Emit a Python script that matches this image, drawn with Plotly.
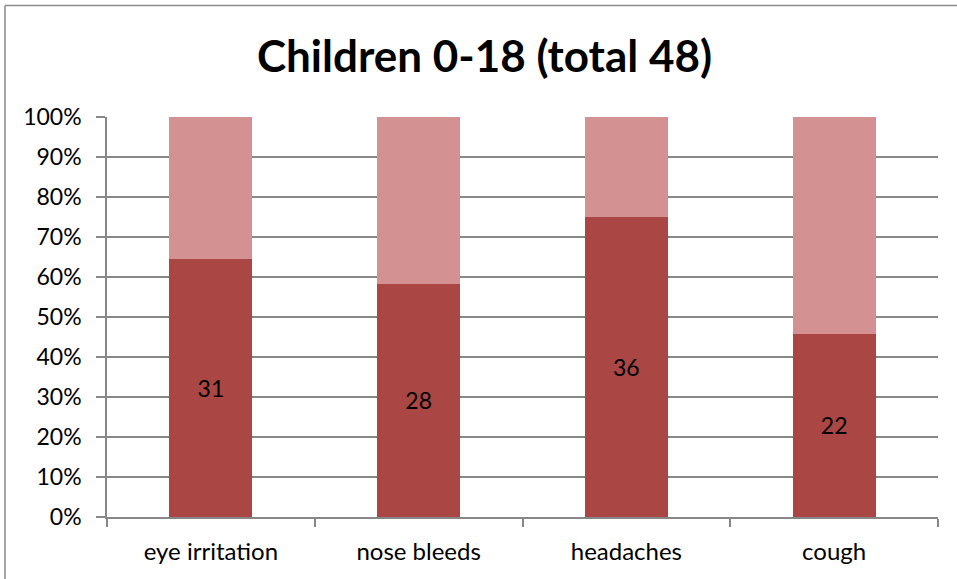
import plotly.graph_objects as go

categories = ["eye irritation", "nose bleeds", "headaches", "cough"]
yes_counts = [31, 28, 36, 22]
no_counts = [17, 20, 12, 26]
title_text = "Children 0-18 (total 48)"

W, H = 957, 579
ML, MR, MT, MB = 107, 19, 117, 62
PW, PH = W - ML - MR, H - MT - MB

fig = go.Figure()
fig.add_trace(go.Bar(
    x=categories, y=yes_counts, text=[str(v) for v in yes_counts],
    textposition="inside", insidetextanchor="middle",
    textfont=dict(color="black", size=23, family="Lato"),
    marker=dict(color="#AA4644", line=dict(width=0)),
    hoverinfo="skip",
))
fig.add_trace(go.Bar(
    x=categories, y=no_counts, textposition="none",
    marker=dict(color="#D39291", line=dict(width=0)),
    hoverinfo="skip",
))

def px2x(p):
    return (p - ML) / PW

def px2y(p):
    return (H - MB - p) / PH

fig.update_layout(
    width=W, height=H,
    margin=dict(l=ML, r=MR, t=MT, b=MB, autoexpand=False),
    barmode="stack", barnorm="percent", bargap=0.6,
    showlegend=False,
    plot_bgcolor="white", paper_bgcolor="white",
    font=dict(family="Lato", size=23, color="black"),
    title=dict(text="<b>" + title_text + "</b>", x=(484.5 - ML) / PW, xref="paper", xanchor="center",
               y=1 - 57 / H, yanchor="middle",
               font=dict(family="Lato", size=44, color="black")),
    shapes=[dict(type="line", xref="paper", yref="paper",
                 x0=px2x(5), x1=px2x(5), y0=px2y(5.5), y1=px2y(600),
                 line=dict(color="#8A8A8A", width=1.5), layer="below"),
            dict(type="line", xref="paper", yref="paper",
                 x0=px2x(5), x1=px2x(960), y0=px2y(5.5), y1=px2y(5.5),
                 line=dict(color="#8A8A8A", width=1.5), layer="below")],
)
fig.update_xaxes(
    showline=True, linecolor="#878787", linewidth=1.5,
    ticks="outside", tickson="boundaries", ticklen=8, tickcolor="#878787", tickwidth=1.5,
    tickfont=dict(size=24, family="Lato"), showgrid=False, ticklabelstandoff=12,
)
fig.update_yaxes(
    range=[0, 100], dtick=10, ticksuffix="%",
    showline=True, linecolor="#878787", linewidth=1.5,
    ticks="outside", ticklen=9, tickcolor="#878787", tickwidth=1.5,
    showgrid=True, gridcolor="#878787", gridwidth=1.5,
    tickfont=dict(size=23, family="Lato"), zeroline=False, ticklabelstandoff=10,
)

fig.write_html("out.html", config={"displayModeBar": False},
               post_script="document.body.style.margin='0';document.body.style.padding='0';")
